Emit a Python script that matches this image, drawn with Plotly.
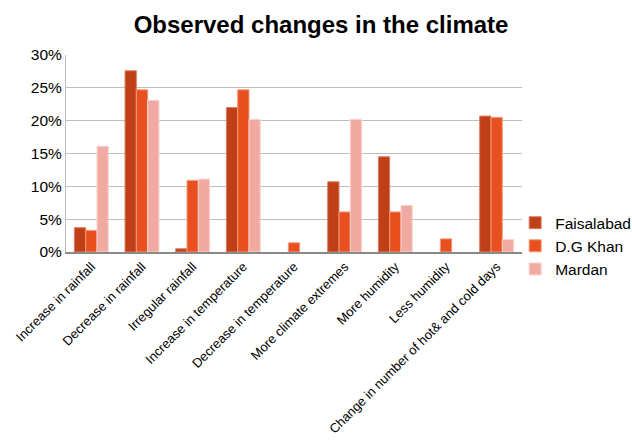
import plotly.graph_objects as go

categories = [
    "Increase in rainfall",
    "Decrease in rainfall",
    "Irregular rainfall",
    "Increase in temperature",
    "Decrease in temperature",
    "More climate extremes",
    "More humidity",
    "Less humidity",
    "Change in number of hot& and cold days",
]
# None = no respondents reported this change
faisalabad = [3.7, 27.6, 0.5, 22.0, None, 10.7, 14.5, None, 20.7]
dg_khan = [3.3, 24.7, 10.9, 24.7, 1.4, 6.1, 6.1, 2.0, 20.5]
mardan = [16.1, 23.1, 11.1, 20.2, None, 20.2, 7.1, None, 1.9]
y_ticks = [0, 5, 10, 15, 20, 25, 30]
y_tick_labels = ["0%", "5%", "10%", "15%", "20%", "25%", "30%"]

series = [
    ("Faisalabad", faisalabad, "#C13F16", "#D9826A"),
    ("D.G Khan", dg_khan, "#E8511F", "#F29A7C"),
    ("Mardan", mardan, "#F1AAA2", "#F8D5D0"),
]

fig = go.Figure()
for name, vals, color, edge in series:
    fig.add_trace(go.Bar(
        x=categories, y=vals, name=name,
        marker=dict(color=color, line=dict(color=edge, width=1)),
    ))

fig.update_layout(
    width=632, height=440,
    margin=dict(l=66, r=110, t=55, b=188, autoexpand=False),
    paper_bgcolor="white", plot_bgcolor="white",
    font=dict(family="Arial, Liberation Sans, sans-serif", color="#000000"),
    title=dict(text="<b>Observed changes in the climate</b>",
               x=0.508, xanchor="center", y=0.945, yanchor="middle",
               font=dict(size=24, color="#000000")),
    barmode="group", bargap=0.33, bargroupgap=0.0,
    legend=dict(x=0.985, xanchor="left", y=0.03, yanchor="middle",
                bgcolor="rgba(0,0,0,0)",
                font=dict(size=15.5), itemwidth=30),
    showlegend=True,
)
fig.update_xaxes(
    tickangle=-45, tickfont=dict(size=13), automargin=False,
    showline=True, linecolor="#898989", linewidth=2,
    ticks="", showgrid=False,
)
fig.update_yaxes(
    range=[0, 30], tickvals=y_ticks, ticktext=y_tick_labels, automargin=False,
    tickfont=dict(size=15.5), showgrid=True, gridcolor="#BEBEBE", gridwidth=1,
    showline=True, linecolor="#BEBEBE", linewidth=1, zeroline=False,
    ticks="",
)

fig.write_html("out.html")
